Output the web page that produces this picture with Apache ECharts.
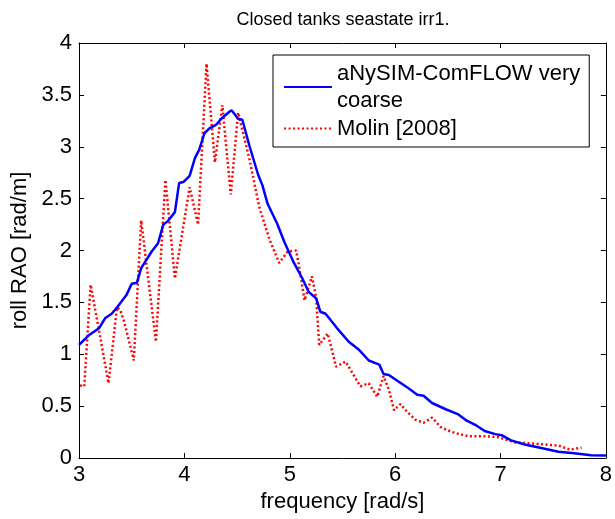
<!DOCTYPE html>
<html>
<head>
<meta charset="utf-8">
<script src="https://cdn.jsdelivr.net/npm/echarts@6/dist/echarts.min.js"></script>
<style>html,body{margin:0;padding:0;background:#fff}#c{width:615px;height:519px}</style>
</head>
<body>
<div id="c"></div>
<script>
var titleText = 'Closed tanks seastate irr1.';
var xName = 'frequency [rad/s]';
var yName = 'roll RAO [rad/m]';
var seriesNames = ['aNySIM-ComFLOW very\ncoarse', 'Molin [2008]'];

var freqBlue = [3.00,3.09,3.19,3.25,3.31,3.36,3.45,3.50,3.55,3.59,3.69,3.75,3.80,3.84,3.91,3.95,3.99,4.05,4.10,4.14,4.19,4.24,4.30,4.35,4.43,4.45,4.51,4.55,4.62,4.70,4.74,4.79,4.88,4.95,5.04,5.12,5.18,5.25,5.29,5.34,5.45,5.56,5.66,5.75,5.85,5.89,5.94,6.13,6.21,6.27,6.35,6.48,6.60,6.68,6.76,6.85,6.95,7.01,7.10,7.23,7.42,7.55,7.70,7.86,8.00];
var raoBlue  = [1.09,1.18,1.25,1.35,1.39,1.45,1.57,1.68,1.69,1.83,1.99,2.07,2.25,2.28,2.37,2.65,2.66,2.72,2.89,2.97,3.13,3.18,3.21,3.27,3.34,3.35,3.27,3.26,3.00,2.73,2.63,2.45,2.26,2.08,1.88,1.73,1.60,1.54,1.41,1.39,1.25,1.12,1.04,0.94,0.90,0.81,0.80,0.67,0.61,0.60,0.53,0.47,0.42,0.36,0.32,0.26,0.23,0.22,0.17,0.13,0.09,0.06,0.045,0.026,0.025];

var freqRed = [3.01,3.05,3.11,3.19,3.28,3.36,3.39,3.43,3.52,3.59,3.73,3.82,3.91,4.05,4.13,4.21,4.29,4.36,4.44,4.51,4.62,4.71,4.81,4.90,4.98,5.06,5.09,5.14,5.18,5.21,5.25,5.28,5.36,5.44,5.53,5.67,5.75,5.83,5.89,5.94,5.99,6.05,6.11,6.19,6.27,6.35,6.43,6.49,6.57,6.70,6.85,6.98,7.14,7.36,7.55,7.66,7.77];
var raoRed  = [0.70,0.69,1.67,1.23,0.72,1.45,1.43,1.31,0.94,2.29,1.12,2.68,1.73,2.61,2.25,3.80,2.85,3.40,2.54,3.33,2.87,2.42,2.10,1.88,1.99,2.00,1.84,1.52,1.65,1.75,1.55,1.09,1.20,0.88,0.93,0.69,0.72,0.59,0.79,0.66,0.46,0.52,0.45,0.37,0.34,0.39,0.30,0.27,0.24,0.21,0.21,0.20,0.15,0.135,0.12,0.08,0.10];

function pairs(xs, ys){ return xs.map(function(x,i){ return [x, ys[i]]; }); }

var font = 'Liberation Sans, Arial, sans-serif';
var chart = echarts.init(document.getElementById('c'), null, {renderer:'canvas'});
var axisCommon = {
  axisLine:{show:true, onZero:false, lineStyle:{color:'#000', width:1}},
  axisTick:{show:true, inside:true, length:5, lineStyle:{color:'#000'}},
  splitLine:{show:false}
};
chart.setOption({
  animation:false,
  backgroundColor:'#fff',
  title:{text:titleText, left:338, top:6, textAlign:'center',
    textStyle:{fontFamily:font, fontSize:18, fontWeight:'normal', color:'#000'}},
  grid:{left:79, right:7, top:43, bottom:61},
  legend:{
    show:true,
    orient:'vertical', left:273, top:55,
    padding:[5,9,5,10], itemGap:1, itemWidth:48, itemHeight:14,
    borderColor:'#000', borderWidth:1, backgroundColor:'#fff',
    itemStyle:{opacity:0},
    textStyle:{fontFamily:font, fontSize:22, color:'#000', lineHeight:27},
    data:[seriesNames[0], seriesNames[1]]
  },
  xAxis:[
    Object.assign({type:'value', min:3, max:8, interval:1, position:'bottom',
      axisLabel:{fontFamily:font, fontSize:22, color:'#000', margin:6},
      name:xName, nameLocation:'middle', nameGap:30,
      nameTextStyle:{fontFamily:font, fontSize:22, color:'#000'}}, axisCommon),
    Object.assign({type:'value', min:3, max:8, interval:1, position:'top',
      axisLabel:{show:false}}, axisCommon)
  ],
  yAxis:[
    Object.assign({type:'value', min:0, max:4, interval:0.5, position:'left',
      axisLabel:{fontFamily:font, fontSize:22, color:'#000', margin:7},
      name:yName, nameLocation:'middle', nameGap:47, nameRotate:90,
      nameTextStyle:{fontFamily:font, fontSize:22, color:'#000'}}, axisCommon),
    Object.assign({type:'value', min:0, max:4, interval:0.5, position:'right',
      axisLabel:{show:false}}, axisCommon)
  ],
  series:[
    {name:seriesNames[0], type:'line', data:pairs(freqBlue, raoBlue), showSymbol:false, symbol:'none',
      lineStyle:{color:'#0000ff', width:2.5}, itemStyle:{color:'#0000ff'}, z:3},
    {name:seriesNames[1], type:'line', data:pairs(freqRed, raoRed), showSymbol:false, symbol:'none',
      lineStyle:{color:'#ff0000', width:2.5, type:[2,2.5]}, itemStyle:{color:'#ff0000'}, z:2}
  ]
});
</script>
</body>
</html>
